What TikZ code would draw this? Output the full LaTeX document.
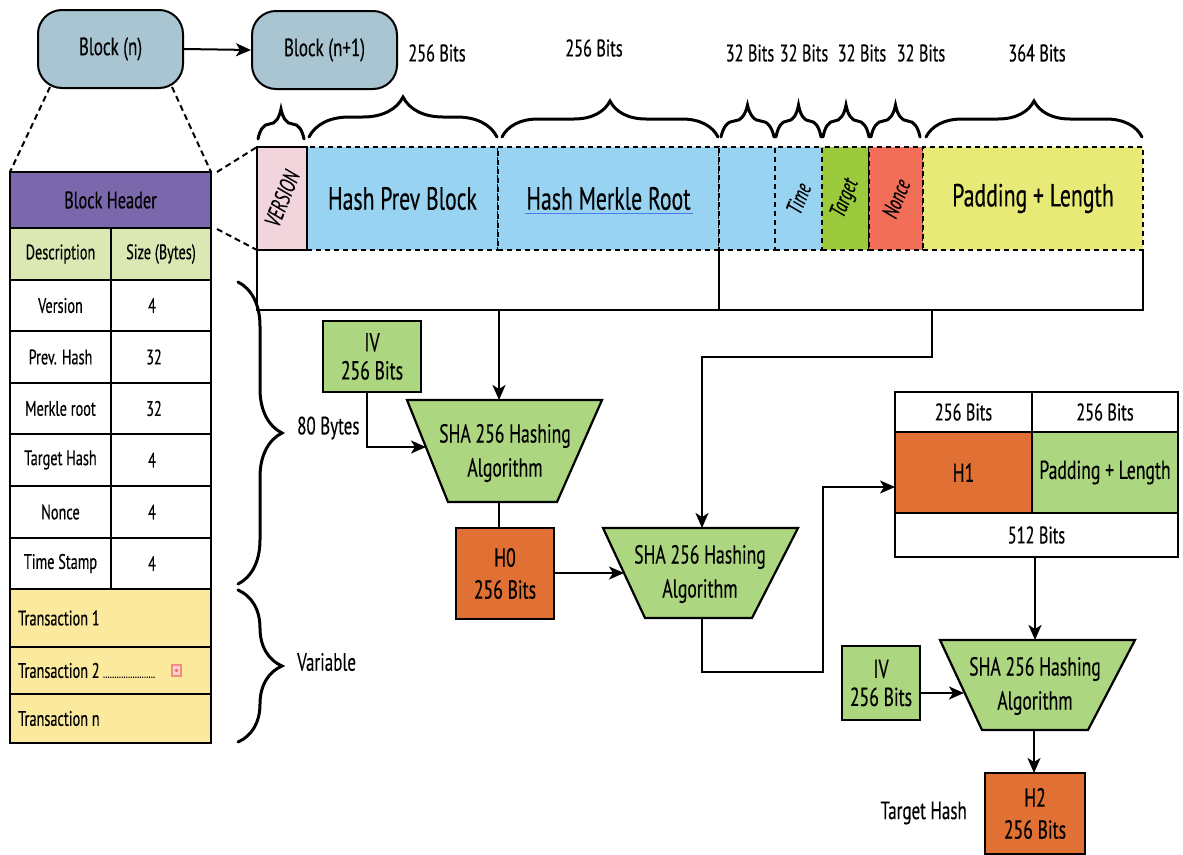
\documentclass[tikz,border=0pt]{standalone}
\usepackage{fontspec}
\setmainfont[FakeStretch=0.68,FakeBold=0.3]{PT Sans}
\usetikzlibrary{decorations.pathreplacing,arrows.meta,calc}

\definecolor{blockblue}{HTML}{A9C5D1}
\definecolor{hdrpurple}{HTML}{7A67AC}
\definecolor{descgreen}{HTML}{DCE8B4}
\definecolor{txyellow}{HTML}{FBEA9E}
\definecolor{verpink}{HTML}{F2D4DC}
\definecolor{fieldblue}{HTML}{99D3F2}
\definecolor{tgtgreen}{HTML}{9BCB3C}
\definecolor{noncered}{HTML}{F26E58}
\definecolor{padyellow}{HTML}{E8EA78}
\definecolor{ivgreen}{HTML}{ADD680}
\definecolor{hashorange}{HTML}{E07033}
\definecolor{ulblue}{HTML}{4A7BF0}

\newcommand{\fs}[1]{\fontsize{#1}{#1}\selectfont}
\newcommand{\tilt}[1]{\rotatebox{68}{\fs{23}\itshape #1}}

\begin{document}
\begin{tikzpicture}[x=1pt,y=-1pt,
  blockbox/.style={draw, line width=2pt, rounded corners=24pt, fill=blockblue,
    minimum width=145pt, minimum height=78pt, inner sep=0pt, font=\fs{25}},
  cell/.style={draw, line width=2.6pt, inner sep=0pt, outer sep=0pt,
    anchor=north west, font=\fs{21}, align=center},
  txcell/.style={cell, fill=txyellow, minimum width=201pt},
  txtext/.style={anchor=west, inner sep=0pt, font=\fs{21}},
  field/.style={draw, line width=2.2pt, dash pattern=on 5pt off 4pt, inner sep=0pt,
    outer sep=0pt, anchor=north west, minimum height=103pt, font=\fs{32}},
  bits/.style={font=\fs{24}},
  box/.style={draw, line width=2.2pt, inner sep=0pt, outer sep=0pt, anchor=north west,
    align=center, font=\fs{26}},
  sha/.style={draw, line width=2.2pt, fill=ivgreen},
  shatext/.style={align=center, font=\fs{26}, inner sep=0pt},
  link/.style={line width=2pt},
  arrow/.style={line width=2pt, -{Stealth[length=15pt,width=13pt,inset=4pt]}},
  zoomline/.style={line width=2pt, dash pattern=on 6pt off 4pt},
  curly/.style={line width=3pt, line cap=round, decorate},
  label/.style={font=\fs{25}, inner sep=0pt}
]
\useasboundingbox (0,0) rectangle (1183,854);

% chained blocks
\node[blockbox] (bn)  at (110.5,49) {Block (n)};
\node[blockbox] (bn1) at (324.5,50) {Block (n+1)};
\draw[arrow] (bn.east) -- (bn1.west);

% block header table
\node[cell, fill=hdrpurple, minimum width=201pt, minimum height=56pt, font=\fs{24}] (bh) at (10,172) {Block Header};
\node[cell, fill=descgreen, minimum width=101pt, minimum height=52pt] (dsc) at (10,228) {Description};
\node[cell, fill=descgreen, minimum width=100pt, minimum height=52pt] (sz) at (111,228) {Size (Bytes)};

\node[cell, minimum width=101pt, minimum height=51pt] (r1a) at (10,280) {Version};
\node[cell, minimum width=100pt, minimum height=51pt] (r1b) at (111,280) {\hspace*{-18pt}4};
\node[cell, minimum width=101pt, minimum height=52pt] (r2a) at (10,331) {Prev. Hash};
\node[cell, minimum width=100pt, minimum height=52pt] (r2b) at (111,331) {\hspace*{-14pt}32};
\node[cell, minimum width=101pt, minimum height=51pt] (r3a) at (10,383) {Merkle root};
\node[cell, minimum width=100pt, minimum height=51pt] (r3b) at (111,383) {\hspace*{-14pt}32};
\node[cell, minimum width=101pt, minimum height=52pt] (r4a) at (10,434) {Target Hash};
\node[cell, minimum width=100pt, minimum height=52pt] (r4b) at (111,434) {\hspace*{-18pt}4};
\node[cell, minimum width=101pt, minimum height=52pt] (r5a) at (10,486) {Nonce};
\node[cell, minimum width=100pt, minimum height=52pt] (r5b) at (111,486) {\hspace*{-18pt}4};
\node[cell, minimum width=101pt, minimum height=51pt] (r6a) at (10,538) {Time Stamp};
\node[cell, minimum width=100pt, minimum height=51pt] (r6b) at (111,538) {\hspace*{-18pt}4};

\node[txcell, minimum height=58pt] (t1) at (10,589) {};
\node[txcell, minimum height=47pt] (t2) at (10,647) {};
\node[txcell, minimum height=49pt] (tn) at (10,694) {};
\node[txtext] (t1l) at ($(t1.west)+(8,0)$) {Transaction 1};
\node[txtext] (t2l) at ($(t2.west)+(8,0)$) {Transaction 2\,{\fs{12}.......................}};
\node[txtext] (tnl) at ($(tn.west)+(8,0)$) {Transaction n};
\draw[line width=1.2pt, draw=noncered!80, fill=verpink] (172,665) rectangle (181,676);
\fill[noncered] (176.5,670.5) circle (1.8pt);

% zoom lines from Block (n) to the header table and on to the header fields
\draw[zoomline] (50,87) -- (bh.north west);
\draw[zoomline] (172,87) -- (bh.north east);

% header fields
\node[field, fill=verpink, solid, minimum width=50pt] (ver) at (257,147) {\tilt{VERSION}};
\node[field, fill=fieldblue, minimum width=191pt] (hpb) at (307,147) {Hash Prev Block};
\node[field, fill=fieldblue, minimum width=221pt] (hmr) at (498,147) {Hash Merkle Root};
\node[field, fill=fieldblue, minimum width=56pt] (tsa) at (719,147) {};
\node[field, fill=fieldblue, minimum width=47pt] (tim) at (775,147) {\tilt{Time}};
\node[field, fill=tgtgreen, minimum width=47pt] (tgt) at (822,147) {\tilt{Target}};
\node[field, fill=noncered, minimum width=54pt] (non) at (869,147) {\tilt{Nonce}};
\node[field, fill=padyellow, minimum width=220pt] (pad) at (923,147) {Padding + Length};
\draw[line width=2.2pt] (ver.north west) rectangle (ver.south east);
\draw[ulblue, line width=1.6pt] ($(hmr.base)+(-84,4)$) -- ($(hmr.base)+(84,4)$);

\draw[zoomline] (217,172) -- (ver.north west);
\draw[zoomline] (217,229) -- (ver.south west);

% bracket under the fields
\draw[line width=2.2pt] (ver.south west) -- ++(0,60) coordinate (bl) -- (bl -| pad.south east) -- (pad.south east);
\draw[line width=2.2pt] (hmr.south east) -- (hmr.south east |- bl);
\coordinate (b1) at (499,310);
\coordinate (b2) at (932,310);

% braces over the fields
\draw[curly, decoration={brace, amplitude=30pt}] (258,139) -- (304,139);
\draw[curly, decoration={brace, amplitude=40pt}] (309,137) -- (497,137);
\draw[curly, decoration={brace, amplitude=36pt}] (502,137) -- (718,137);
\draw[curly, decoration={brace, amplitude=32pt}] (721,137) -- (774,137);
\draw[curly, decoration={brace, amplitude=32pt}] (776,137) -- (821,137);
\draw[curly, decoration={brace, amplitude=32pt}] (823,137) -- (869,137);
\draw[curly, decoration={brace, amplitude=32pt}] (871,137) -- (920,137);
\draw[curly, decoration={brace, amplitude=36pt}] (926,137) -- (1142,137);

\node[bits] (l1) at (437,53) {256 Bits};
\node[bits] (l2) at (594,48) {256 Bits};
\node[bits] (l3) at (750,53) {32 Bits};
\node[bits] (l4) at (804,53) {32 Bits};
\node[bits] (l5) at (862,53) {32 Bits};
\node[bits] (l6) at (921,53) {32 Bits};
\node[bits] (l7) at (1037,53) {364 Bits};

% braces beside the table
\draw[curly, decoration={brace, amplitude=44pt}] (238,282) -- (238,584);
\draw[curly, decoration={brace, amplitude=44pt}] (238,590) -- (238,742);
\node[label, anchor=west] (b80) at (297,428) {80 Bytes};
\node[label, anchor=west] (var) at (297,662) {Variable};

% first hashing stage
\node[box, fill=ivgreen, minimum width=98pt, minimum height=71pt] (iv1) at (323,321) {IV\\[2pt]256 Bits};
\draw[sha] (407,400) -- (602,400) -- (557,502) -- (448,502) -- cycle;
\node[shatext] (sha1) at (505,453) {SHA 256 Hashing\\[8pt]Algorithm};
\coordinate (sha1top) at (499,400);
\coordinate (sha1in) at (426,447);
\coordinate (sha1bot) at (499,502);
\draw[arrow] (b1) -- (sha1top);
\draw[arrow] (iv1.south -| 367,0) |- (sha1in);

\node[box, fill=hashorange, minimum width=98pt, minimum height=91pt] (h0) at (456,528) {H0\\[6pt]256 Bits};
\draw[link] (sha1bot) -- (sha1bot |- h0.north);

% second hashing stage
\draw[sha] (603,528) -- (798,528) -- (752,618) -- (645,618) -- cycle;
\node[shatext] (sha2) at (700,574) {SHA 256 Hashing\\[8pt]Algorithm};
\coordinate (sha2top) at (702,528);
\coordinate (sha2in) at (624,573);
\coordinate (sha2bot) at (702,618);
\draw[arrow] (h0.east |- sha2in) -- (sha2in);
\draw[arrow] (b2) -- (932,357) -| (sha2top);

% H1 block
\node[box, minimum width=137pt, minimum height=40pt, font=\fs{24}] (c1) at (895,392) {256 Bits};
\node[box, minimum width=146pt, minimum height=40pt, font=\fs{24}] (c2) at (1032,392) {256 Bits};
\node[box, fill=hashorange, minimum width=137pt, minimum height=81pt] (h1) at (895,432) {H1};
\node[box, fill=ivgreen, minimum width=146pt, minimum height=81pt] (pl) at (1032,432) {Padding + Length};
\node[box, minimum width=283pt, minimum height=44pt, font=\fs{24}] (c512) at (895,513) {512 Bits};
\draw[arrow] (sha2bot) -- (702,672) -- (823,672) -- (823,487) -- (h1.west |- 0,487);

% third hashing stage
\draw[sha] (940,640) -- (1135,640) -- (1088,730) -- (982,730) -- cycle;
\node[shatext] (sha3) at (1035,686) {SHA 256 Hashing\\[8pt]Algorithm};
\coordinate (sha3top) at (1035,640);
\coordinate (sha3in) at (964,693);
\coordinate (sha3bot) at (1034,730);
\draw[arrow] (c512.south -| sha3top) -- (sha3top);

\node[box, fill=ivgreen, minimum width=78pt, minimum height=74pt] (iv2) at (842,646) {IV\\[2pt]256 Bits};
\draw[arrow] (iv2.east |- sha3in) -- (sha3in);

\node[box, fill=hashorange, minimum width=100pt, minimum height=81pt] (h2) at (985,773) {H2\\[6pt]256 Bits};
\draw[arrow] (sha3bot) -- (sha3bot |- h2.north);
\node[label, anchor=east] (th) at (967,813) {Target Hash};
\end{tikzpicture}
\end{document}
